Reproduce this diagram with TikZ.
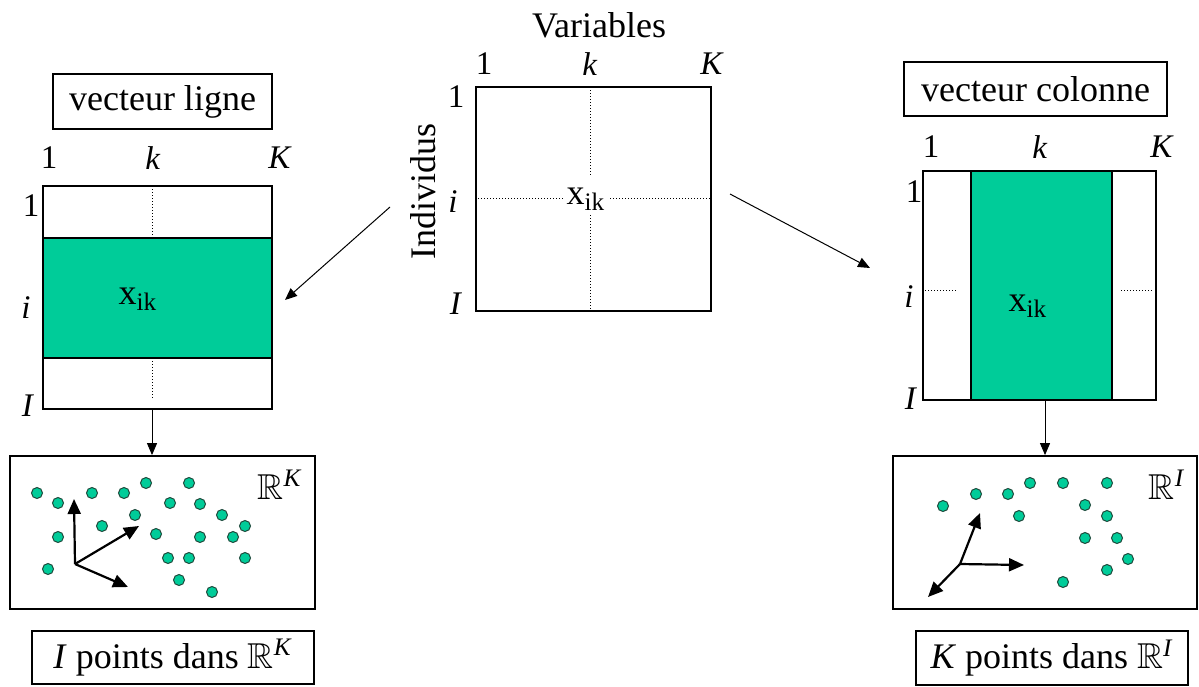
\documentclass[tikz,border=0pt]{standalone}
\usepackage{amssymb}
\usepackage{fontspec}
\setmainfont{Liberation Serif}
\usepackage{tikz}
\usetikzlibrary{arrows.meta,positioning}
\definecolor{pcagreen}{HTML}{00CC99}
\definecolor{dotrim}{HTML}{1F4A3C}

\begin{document}
\begin{tikzpicture}[
    x=0.5pt, y=-0.5pt,
    titlebox/.style={draw, line width=0.9pt, font=\fontsize{18}{20}\selectfont, inner sep=0pt},
    matbox/.style={draw, line width=0.9pt, inner sep=0pt},
    idx/.style={font=\fontsize{16.5}{18}\selectfont, inner sep=0pt},
    cell/.style={font=\fontsize{18}{20}\selectfont, inner sep=0pt},
    gridline/.style={densely dotted, line width=0.5pt},
    pt/.style={circle, draw=dotrim, fill=pcagreen, line width=0.5pt, minimum size=5.5pt, inner sep=0pt},
    conn/.style={-{Triangle[length=6pt,width=5pt]}, line width=0.5pt},
    axis/.style={-{Triangle[length=7.5pt,width=6.5pt]}, line width=1.1pt}
]
\useasboundingbox (0,0) rectangle (1199,686);

% central data table
\node[font=\fontsize{18}{20}\selectfont, inner sep=0pt] (var) at (599,25) {Variables};
\node[font=\fontsize{18}{20}\selectfont, inner sep=0pt, rotate=90] (ind) at (423,191) {Individus};
\node[matbox, minimum width=117.5pt, minimum height=112pt] (cmat) at (593.5,199) {};
\node[idx] (c1) at (484,64) {1};
\node[idx] (ck) at (590,64) {\textit{k}};
\node[idx] (cK) at (712,64) {\textit{K}};
\node[idx] (r1) at (456,97) {1};
\node[idx] (ri) at (453,202) {\textit{i}};
\node[idx] (rI) at (456,304) {\textit{I}};
\node[cell] (cx) at (586,199) {x\textsubscript{ik}};
\draw[gridline] (590,87) -- (590,175);
\draw[gridline] (590,215) -- (590,311);
\draw[gridline] (478,198) -- (565,198);
\draw[gridline] (610,198) -- (711,198);

% row vector (left)
\node[titlebox, minimum width=109.5pt, minimum height=27.5pt] (lhead) at (162.5,101.5) {vecteur ligne};
\node[matbox, minimum width=114.5pt, minimum height=111.5pt] (lmat) at (157.5,297.5) {};
\draw[line width=0.9pt, fill=pcagreen] (43,238) rectangle (272,358);
\node[idx] (l1) at (49,158) {1};
\node[idx] (lk) at (153,158) {\textit{k}};
\node[idx] (lK) at (280,158) {\textit{K}};
\node[idx] (lr1) at (31,206) {1};
\node[idx] (lri) at (26,308) {\textit{i}};
\node[idx] (lrI) at (28,406) {\textit{I}};
\node[cell] (lx) at (138,299) {x\textsubscript{ik}};
\draw[gridline] (152,186) -- (152,238);
\draw[gridline] (152,358) -- (152,400);
\coordinate (lcol) at (152,0);

\node[matbox, minimum width=152.5pt, minimum height=76.5pt] (lpts) at (162.5,532.5) {};
\node[cell] (lRK) at (280,485) {$\mathbb{R}$\textsuperscript{\textit{K}}};
\foreach \p in {(37,493),(58,503),(92,493),(124,493),(146,483),(189,483),
                (170,503),(200,504),(135,515),(222,515),(245,526),(102,526),
                (58,537),(156,534),(200,537),(233,537),(168,558),(189,558),
                (245,558),(48,569),(179,580),(212,592)}
  \node[pt] at \p {};
\coordinate (lo) at (75,564);
\coordinate (lax1) at (74,499);
\coordinate (lax2) at (139,526);
\coordinate (lax3) at (128,587);
\draw[axis] (lo) -- (lax1);
\draw[axis] (lo) -- (lax2);
\draw[axis] (lo) -- (lax3);
\node[titlebox, minimum width=141pt, minimum height=26.5pt] (lcap) at (173,657.5)
  {\textit{I} points dans $\mathbb{R}$\textsuperscript{\textit{K}}};

% column vector (right)
\node[titlebox, minimum width=131.5pt, minimum height=27pt] (rhead) at (1035.5,89) {vecteur colonne};
\node[matbox, minimum width=116.5pt, minimum height=114.5pt] (rmat) at (1039.5,285.5) {};
\draw[line width=0.9pt, fill=pcagreen] (971,171) rectangle (1112,400);
\node[idx] (q1) at (931,147) {1};
\node[idx] (qk) at (1040,147) {\textit{k}};
\node[idx] (qK) at (1162,147) {\textit{K}};
\node[idx] (qr1) at (914,192) {1};
\node[idx] (qri) at (909,297) {\textit{i}};
\node[idx] (qrI) at (911,399) {\textit{I}};
\node[cell] (qx) at (1028,306) {x\textsubscript{ik}};
\draw[gridline] (925,290) -- (957,290);
\draw[gridline] (1121,290) -- (1154,290);
\coordinate (rcol) at (1045,0);

\node[matbox, minimum width=152pt, minimum height=76.5pt] (rpts) at (1045,532.5) {};
\node[cell] (rRI) at (1167,485) {$\mathbb{R}$\textsuperscript{\textit{I}}};
\foreach \p in {(943,506),(976,494),(1008,494),(1030,483),(1063,483),(1107,483),
                (1019,516),(1085,505),(1107,516),(1085,538),(1117,538),
                (1128,559),(1107,570),(1063,582)}
  \node[pt] at \p {};
\coordinate (ro) at (960,564);
\coordinate (rax1) at (980,513);
\coordinate (rax2) at (1024,565);
\coordinate (rax3) at (928,597);
\draw[axis] (ro) -- (rax1);
\draw[axis] (ro) -- (rax2);
\draw[axis] (ro) -- (rax3);
\node[titlebox, minimum width=136pt, minimum height=27pt] (rcap) at (1052,658)
  {\textit{K} points dans $\mathbb{R}$\textsuperscript{\textit{I}}};

% connectors
\coordinate (lfrom) at (390,207);
\coordinate (lto) at (285,300);
\coordinate (rfrom) at (730,194);
\coordinate (rto) at (870,268);
\draw[conn] (lfrom) -- (lto);
\draw[conn] (rfrom) -- (rto);
\draw[conn] (lmat.south -| lcol) -- (lpts.north -| lcol);
\draw[conn] (rmat.south -| rcol) -- (rpts.north -| rcol);
\end{tikzpicture}
\end{document}
